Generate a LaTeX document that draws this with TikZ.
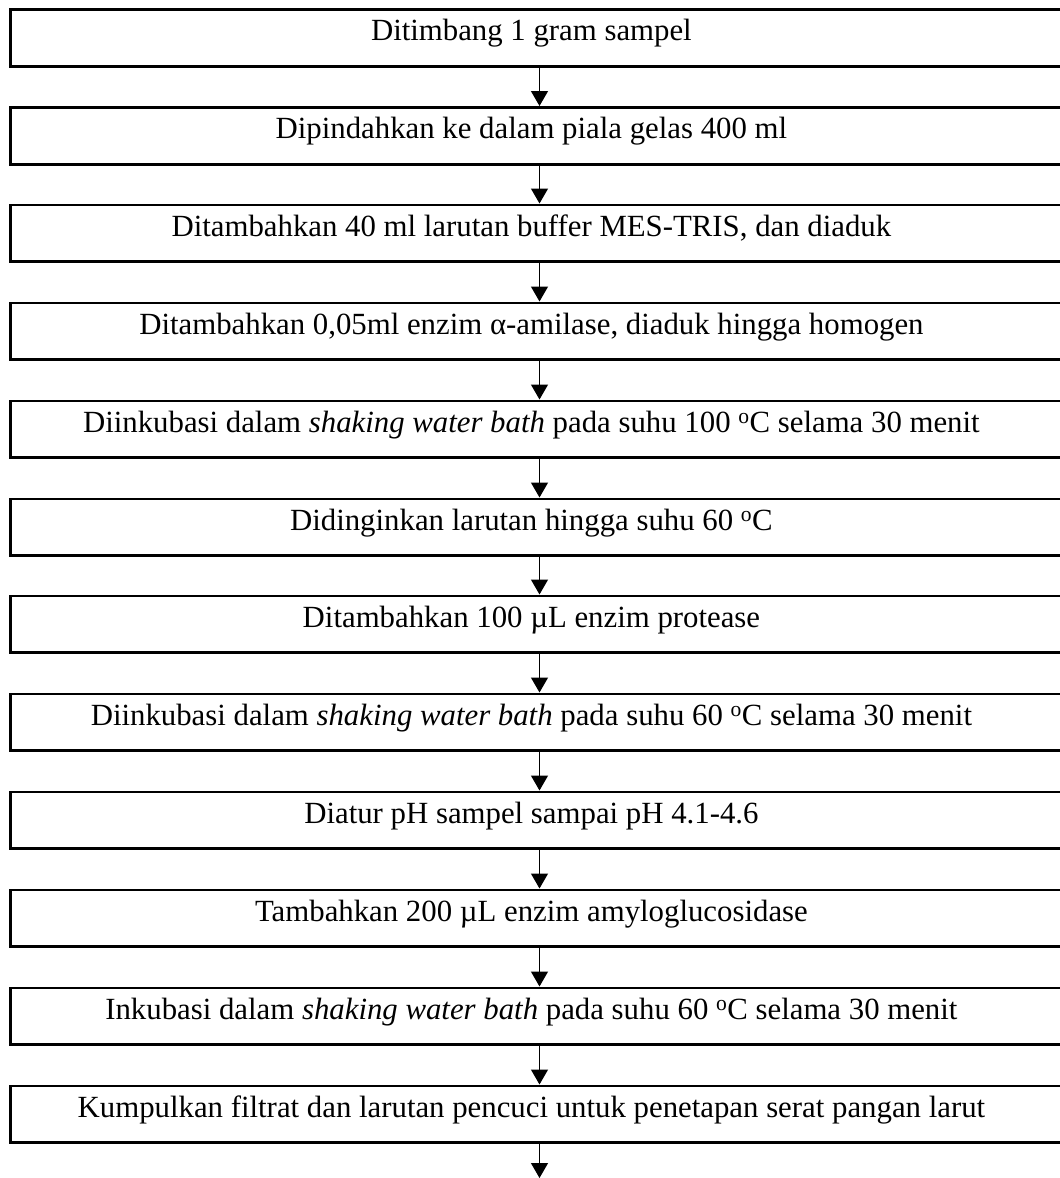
\documentclass[tikz,border=0pt]{standalone}
\usepackage{fontspec}
\setmainfont{Liberation Serif}
\usetikzlibrary{arrows.meta}
\newcommand{\boxtext}[1]{\makebox[1062pt][l]{\makebox[1042pt][c]{#1}}}
\begin{document}
\begin{tikzpicture}[x=1pt,y=-1pt,
  stepbox/.style={draw, line width=2.8pt, rectangle, inner sep=0pt,
    minimum width=1062pt, minimum height=56.7pt,
    text height=31.5pt, text depth=25.2pt, anchor=north west,
    font=\fontsize{30.8}{36}\selectfont},
  flow/.style={line width=1.3pt, -{Triangle[width=17pt,length=15pt]}}]
\useasboundingbox (0,0) rectangle (1060,1178);
\coordinate (ax) at (539.5,0);
\node[stepbox] (b1) at (9,8) {\boxtext{Ditimbang 1 gram sampel}};
\node[stepbox] (b2) at (9,106) {\boxtext{Dipindahkan ke dalam piala gelas 400 ml}};
\node[stepbox] (b3) at (9,203.5) {\boxtext{Ditambahkan 40 ml larutan buffer MES-TRIS, dan diaduk}};
\node[stepbox] (b4) at (9,301.5) {\boxtext{Ditambahkan 0,05ml enzim α-amilase, diaduk hingga homogen}};
\node[stepbox] (b5) at (9,399.5) {\boxtext{Diinkubasi dalam \textit{shaking water bath} pada suhu 100 \textsuperscript{o}C selama 30 menit}};
\node[stepbox] (b6) at (9,497.5) {\boxtext{Didinginkan larutan hingga suhu 60 \textsuperscript{o}C}};
\node[stepbox] (b7) at (9,594.5) {\boxtext{Ditambahkan 100 µL enzim protease}};
\node[stepbox] (b8) at (9,692.5) {\boxtext{Diinkubasi dalam \textit{shaking water bath} pada suhu 60 \textsuperscript{o}C selama 30 menit}};
\node[stepbox] (b9) at (9,790.5) {\boxtext{Diatur pH sampel sampai pH 4.1-4.6}};
\node[stepbox] (b10) at (9,888.5) {\boxtext{Tambahkan 200 µL enzim amyloglucosidase}};
\node[stepbox] (b11) at (9,986.5) {\boxtext{Inkubasi dalam \textit{shaking water bath} pada suhu 60 \textsuperscript{o}C selama 30 menit}};
\node[stepbox] (b12) at (9,1084.5) {\boxtext{Kumpulkan filtrat dan larutan pencuci untuk penetapan serat pangan larut}};
\coordinate (end) at (539.5,1178);
\foreach \a/\b in {b1/b2,b2/b3,b3/b4,b4/b5,b5/b6,b6/b7,b7/b8,b8/b9,b9/b10,b10/b11,b11/b12}
  \draw[flow] (\a.south -| ax) -- (\b.north -| ax);
\draw[flow] (b12.south -| ax) -- (end);
\end{tikzpicture}
\end{document}
